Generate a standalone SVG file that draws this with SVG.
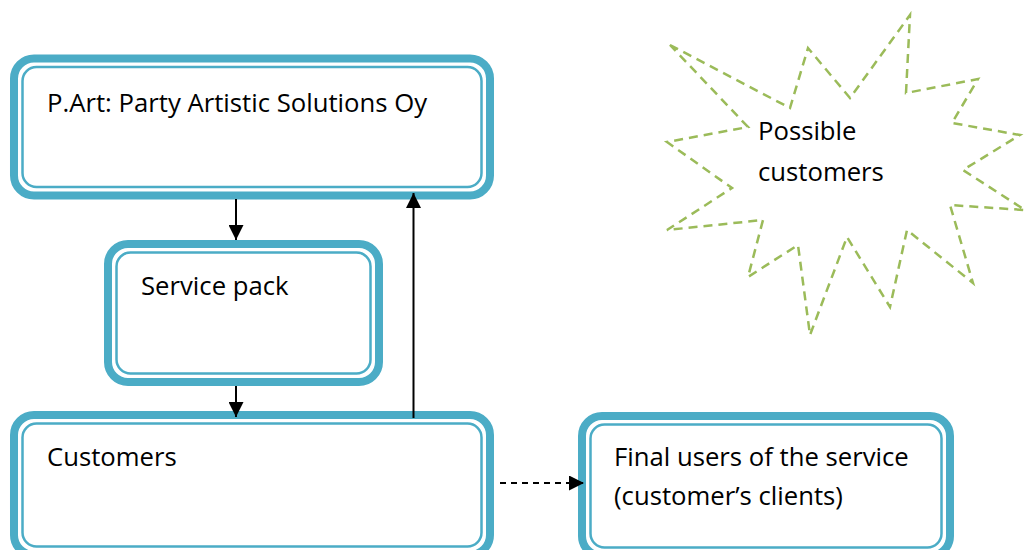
<svg xmlns="http://www.w3.org/2000/svg" width="1026" height="550" viewBox="0 0 1026 550">
<defs>
<style>
.outer{fill:#fff;stroke:#4BACC6;stroke-width:8}
.inner{fill:none;stroke:#4BACC6;stroke-width:2.5}
.lbl{font-family:"Open Sans","Noto Sans",sans-serif;font-size:25.7px;fill:#000}
.conn{stroke:#000;stroke-width:2;fill:none}
.dash{stroke:#000;stroke-width:2;fill:none;stroke-dasharray:6 5}
.star{fill:#fff;stroke:#9BBB59;stroke-width:2.5;stroke-dasharray:9 6}
</style>
<marker id="ah" viewBox="0 0 10 10" refX="10" refY="5" markerWidth="15" markerHeight="15" markerUnits="userSpaceOnUse" orient="auto">
<path d="M0,0 L10,5 L0,10 Z" fill="#000"/>
</marker>
</defs>
<rect width="1026" height="550" fill="#fff"/>
<g id="star-possible-customers">
<polygon class="star" points="670,45 790,108 808,48 850,98 910,15 906,93 978,79 952,123 1020,135 963,170 1025,210 950,205 973,283 907,230 890,307 847,237 810,335 798,245 748,277 763,220 667,230 732,188 667,142 748,127"/>
<text class="lbl" x="758" y="140">Possible</text>
<text class="lbl" x="758" y="181">customers</text>
</g>
<g id="node-part">
<rect class="outer" x="14" y="58.5" width="476" height="137" rx="20"/>
<rect class="inner" x="22.5" y="67" width="459" height="120" rx="14"/>
<text class="lbl" x="47" y="112">P.Art: Party Artistic Solutions Oy</text>
</g>
<g id="node-service-pack">
<rect class="outer" x="108" y="244" width="271" height="138" rx="20"/>
<rect class="inner" x="116.5" y="252.5" width="254" height="121" rx="14"/>
<text class="lbl" x="141" y="295">Service pack</text>
</g>
<g id="node-customers">
<rect class="outer" x="14" y="415" width="476" height="140" rx="20"/>
<rect class="inner" x="22.5" y="423.5" width="459" height="123" rx="14"/>
<text class="lbl" x="47" y="466">Customers</text>
</g>
<g id="node-final-users">
<rect class="outer" x="582" y="416" width="368" height="140" rx="20"/>
<rect class="inner" x="590.5" y="424.5" width="351" height="123" rx="14"/>
<text class="lbl" x="614" y="466">Final users of the service</text>
<text class="lbl" x="614" y="505">(customer’s clients)</text>
</g>
<g id="connectors">
<line class="conn" x1="236" y1="199" x2="236" y2="240" marker-end="url(#ah)"/>
<line class="conn" x1="236" y1="386" x2="236" y2="417" marker-end="url(#ah)"/>
<line class="conn" x1="413.5" y1="418" x2="413.5" y2="193" marker-end="url(#ah)"/>
<line class="dash" x1="500" y1="483" x2="584" y2="483" marker-end="url(#ah)"/>
</g>
</svg>
